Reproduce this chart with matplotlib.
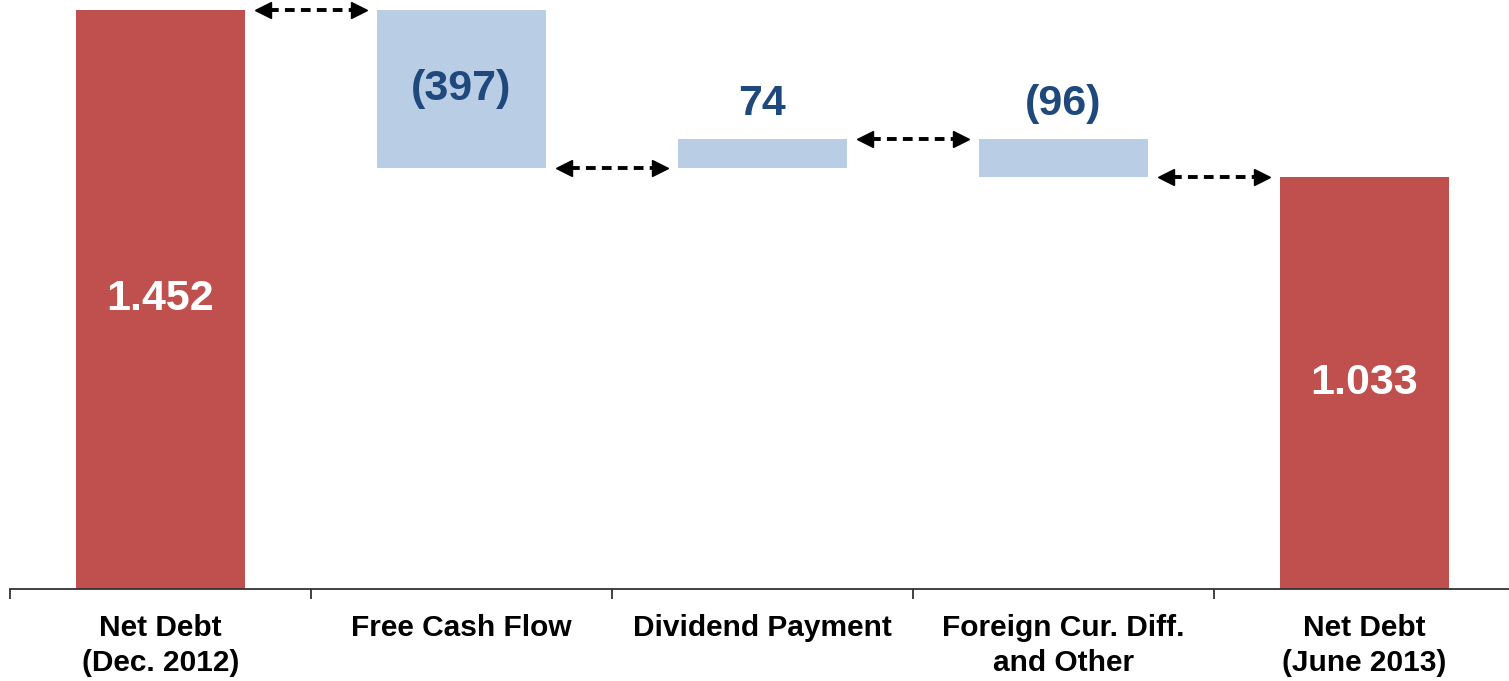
import matplotlib
matplotlib.use("Agg")
import matplotlib.pyplot as plt
import numpy as np

plt.rcParams['font.family'] = ['Liberation Sans', 'DejaVu Sans']
plt.rcParams['font.weight'] = 'bold'

# Net debt bridge (EUR m)
categories = ["Net Debt\n(Dec. 2012)", "Free Cash Flow", "Dividend Payment",
              "Foreign Cur. Diff.\nand Other", "Net Debt\n(June 2013)"]
values = [1452, -397, 74, -96, 1033]
is_total = [True, False, False, False, True]

RED = '#C0504D'
LIGHT_BLUE = '#B9CDE5'
DARK_BLUE = '#1F497D'


def fmt(v, total):
    s = f"{abs(v):,}".replace(',', '.')
    if total:
        return s
    return f"({s})" if v < 0 else s


# waterfall bottoms / tops and running level after each step
bottoms, tops, levels = [], [], []
level = 0
for v, tot in zip(values, is_total):
    if tot:
        bottoms.append(0)
        tops.append(v)
        level = v
    else:
        new = level + v
        bottoms.append(min(level, new))
        tops.append(max(level, new))
        level = new
    levels.append(level)

fig = plt.figure(figsize=(15.09, 6.81), dpi=100)
ax = fig.add_axes([10 / 1509, 92 / 681, 1505 / 1509, 589 / 681])

x = np.arange(len(values))
width = 0.56
heights = [t - b for b, t in zip(bottoms, tops)]
colors = [RED if t else LIGHT_BLUE for t in is_total]
ax.bar(x, heights, bottom=bottoms, width=width, color=colors, edgecolor='none', zorder=2)

ax.set_xlim(-0.5, len(values) - 0.5)
ax.set_ylim(0, 1477)

# value labels
for i, (v, tot) in enumerate(zip(values, is_total)):
    txt = fmt(v, tot)
    if tot:
        ax.text(x[i], tops[i] / 2, txt, ha='center', va='center', color='white',
                fontsize=31, fontweight='bold', zorder=3)
    elif heights[i] > 200:
        ax.text(x[i], (bottoms[i] + tops[i]) / 2, txt, ha='center', va='center',
                color=DARK_BLUE, fontsize=31, fontweight='bold', zorder=3)
    else:
        ax.annotate(txt, (x[i], tops[i]), xytext=(0, 17), textcoords='offset points',
                    ha='center', va='baseline', color=DARK_BLUE, fontsize=31,
                    fontweight='bold', zorder=3)

# dashed double-headed connectors between bars
gap = 0.06
for i in range(len(values) - 1):
    y = levels[i]
    x0 = x[i] + width / 2 + gap
    x1 = x[i + 1] - width / 2 - gap
    ax.plot([x0 + 0.02, x1 - 0.02], [y, y], color='black', lw=2.8,
            dashes=(2.5, 1.6), zorder=3, clip_on=False)
    ax.plot([x0], [y], marker='<', color='black', markersize=12, zorder=4, clip_on=False)
    ax.plot([x1], [y], marker='>', color='black', markersize=12, zorder=4, clip_on=False)

# axis styling
for s in ['top', 'right', 'left']:
    ax.spines[s].set_visible(False)
ax.spines['bottom'].set_color('#333333')
ax.spines['bottom'].set_linewidth(1.3)
ax.set_yticks([])
ax.set_xticks(np.arange(-0.5, len(values), 1.0))
ax.set_xticklabels([])
ax.tick_params(axis='x', which='major', length=7, width=1.3, color='#333333', direction='out')
ax.set_xticks(x, minor=True)
ax.set_xticklabels(categories, minor=True, fontsize=21.5, fontweight='bold', linespacing=1.3)
ax.tick_params(axis='x', which='minor', length=0, pad=18)

fig.savefig('out.png', dpi=100)
